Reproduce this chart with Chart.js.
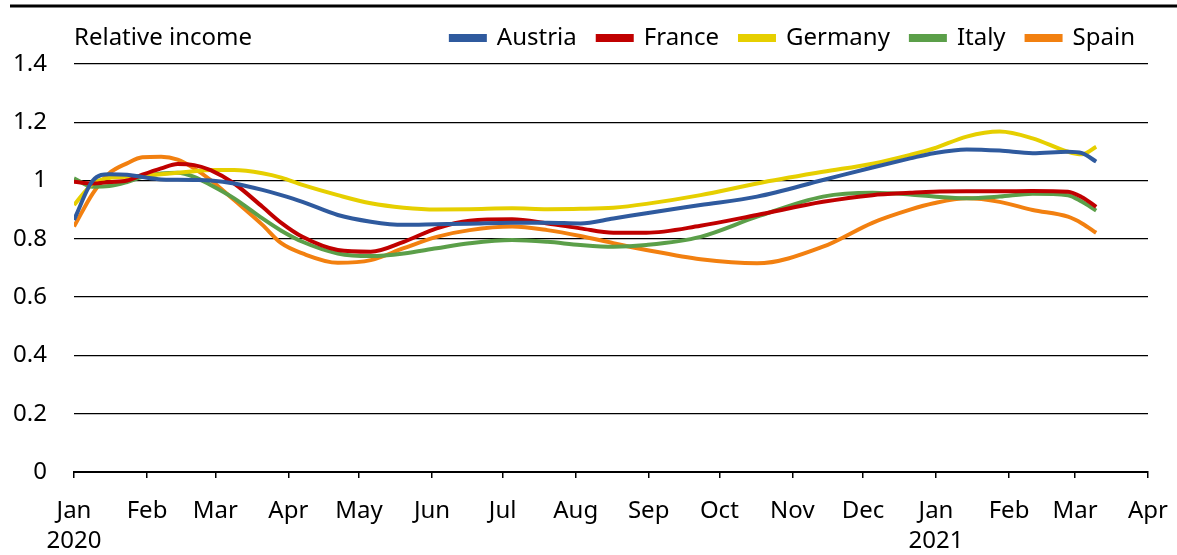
<!DOCTYPE html>
<html>
<head>
<meta charset="utf-8">
<script src="https://cdn.jsdelivr.net/npm/chart.js@4"></script>
<style>
  body { margin: 0; background: #fff; }
  #wrap { width: 1177px; height: 555px; position: relative; }
</style>
</head>
<body>
<div id="wrap"><canvas id="incomeChart"></canvas></div>
<script>
// days since 1 Jan 2020
const days = [0, 8, 15, 22.5, 29, 37, 44, 51, 58, 68, 80, 88, 97, 112, 126, 140, 154, 168,
  186, 201, 215, 229, 243, 266, 290, 318, 339, 355, 365, 379, 393, 407, 422, 428, 434];

const austria = [0.865, 1.0, 1.022, 1.02, 1.012, 1.004, 1.003, 1.002, 1.0, 0.99, 0.968, 0.95,
  0.927, 0.882, 0.859, 0.848, 0.85, 0.852, 0.855, 0.855, 0.853, 0.87, 0.888, 0.916, 0.945,
  1.002, 1.045, 1.076, 1.094, 1.107, 1.103, 1.094, 1.099, 1.094, 1.065];
const france = [0.996, 0.99, 0.995, 1.0, 1.02, 1.042, 1.057, 1.053, 1.036, 0.99, 0.91, 0.855,
  0.807, 0.762, 0.756, 0.79, 0.836, 0.862, 0.867, 0.853, 0.836, 0.821, 0.821, 0.845, 0.882,
  0.927, 0.95, 0.958, 0.962, 0.963, 0.963, 0.964, 0.962, 0.943, 0.91];
const germany = [0.916, 0.99, 1.009, 1.013, 1.016, 1.022, 1.027, 1.032, 1.036, 1.036, 1.025, 1.01,
  0.985, 0.95, 0.922, 0.907, 0.901, 0.902, 0.905, 0.902, 0.903, 0.907, 0.92, 0.95, 0.99,
  1.03, 1.058, 1.088, 1.11, 1.151, 1.168, 1.145, 1.099, 1.09, 1.116];
const italy = [1.008, 0.979, 0.981, 0.995, 1.013, 1.024, 1.027, 1.013, 0.985, 0.939, 0.87, 0.828,
  0.79, 0.75, 0.741, 0.75, 0.768, 0.785, 0.796, 0.79, 0.779, 0.773, 0.779, 0.807, 0.876,
  0.945, 0.958, 0.952, 0.945, 0.939, 0.945, 0.955, 0.95, 0.927, 0.897];
const spain = [0.842, 0.956, 1.025, 1.059, 1.08, 1.082, 1.072, 1.042, 1.002, 0.933, 0.848, 0.785,
  0.75, 0.718, 0.727, 0.768, 0.807, 0.83, 0.842, 0.83, 0.81, 0.785, 0.762, 0.73, 0.716,
  0.773, 0.855, 0.9, 0.922, 0.939, 0.927, 0.899, 0.876, 0.853, 0.821];

// month starts (days since 1 Jan 2020) and their labels
const monthDays = [0, 31, 60, 91, 121, 152, 182, 213, 244, 274, 305, 335, 366, 397, 425, 456];
const monthLabels = [["Jan", "2020"], "Feb", "Mar", "Apr", "May", "Jun", "Jul", "Aug", "Sep",
  "Oct", "Nov", "Dec", ["Jan", "2021"], "Feb", "Mar", "Apr"];

const yTitle = "Relative income";
const FONT = "'Noto Sans', 'Open Sans', sans-serif";
const FS = 24;

function pts(vals) {
  return vals.map((v, i) => ({ x: days[i], y: v }));
}

function line(label, vals, color) {
  return {
    label: label,
    data: pts(vals),
    borderColor: color,
    backgroundColor: color,
    borderWidth: 4,
    pointRadius: 0,
    cubicInterpolationMode: "monotone",
    fill: false
  };
}

// top rule + "Relative income" text, legend nudged right
const decor = {
  id: "decor",
  afterLayout(chart) {
    if (chart.legend) {
      chart.legend.left += 8;
      chart.legend.right += 8;
    }
  },
  afterDraw(chart) {
    const c = chart.ctx;
    c.save();
    c.strokeStyle = "#000";
    c.lineWidth = 3;
    c.beginPath();
    c.moveTo(10, 6);
    c.lineTo(chart.width, 6);
    c.stroke();
    c.fillStyle = "#000";
    c.font = FS + "px " + FONT;
    c.textBaseline = "middle";
    c.textAlign = "left";
    c.fillText(yTitle, chart.chartArea.left, 38);
    c.restore();
  }
};

new Chart(document.getElementById("incomeChart"), {
  type: "line",
  data: {
    datasets: [
      line("Austria", austria, "#2F5A9E"),
      line("France", france, "#C00000"),
      line("Germany", germany, "#E6CF00"),
      line("Italy", italy, "#5B9F49"),
      line("Spain", spain, "#F28010")
    ]
  },
  options: {
    responsive: true,
    maintainAspectRatio: false,
    animation: false,
    layout: { padding: { left: 0, right: 29, top: 5, bottom: 0 } },
    plugins: {
      legend: {
        position: "top",
        align: "end",
        labels: {
          boxWidth: 34,
          boxHeight: 4,
          padding: 21,
          color: "#000",
          font: { family: FONT, size: FS }
        }
      },
      // empty spacer between legend and plot
      title: {
        display: true,
        text: " ",
        weight: 500,
        padding: 0,
        font: { size: 4, lineHeight: 1 }
      },
      tooltip: { enabled: false }
    },
    scales: {
      x: {
        type: "linear",
        min: 0,
        max: 456,
        afterBuildTicks(scale) {
          scale.ticks = monthDays.map(d => ({ value: d }));
        },
        afterFit(scale) {
          scale.height = 83;
          scale.paddingRight = 0;
        },
        ticks: {
          autoSkip: false,
          maxRotation: 0,
          padding: 18,
          color: "#000",
          font: { family: FONT, size: FS, lineHeight: 1.25 },
          callback(value) {
            const i = monthDays.indexOf(value);
            return i >= 0 ? monthLabels[i] : "";
          }
        },
        grid: {
          drawOnChartArea: false,
          drawTicks: true,
          tickLength: 6,
          color: "#000",
          lineWidth: 1.5
        },
        border: { display: true, color: "#000", width: 2 }
      },
      y: {
        min: 0,
        max: 1.4,
        afterFit(scale) { scale.width = 74; },
        ticks: {
          stepSize: 0.2,
          padding: 27,
          color: "#000",
          font: { family: FONT, size: FS },
          callback(value) { return String(Number(value.toFixed(1))); }
        },
        grid: { color: "#000", lineWidth: 1.3, drawTicks: false },
        border: { display: false }
      }
    }
  },
  plugins: [decor]
});
</script>
</body>
</html>
